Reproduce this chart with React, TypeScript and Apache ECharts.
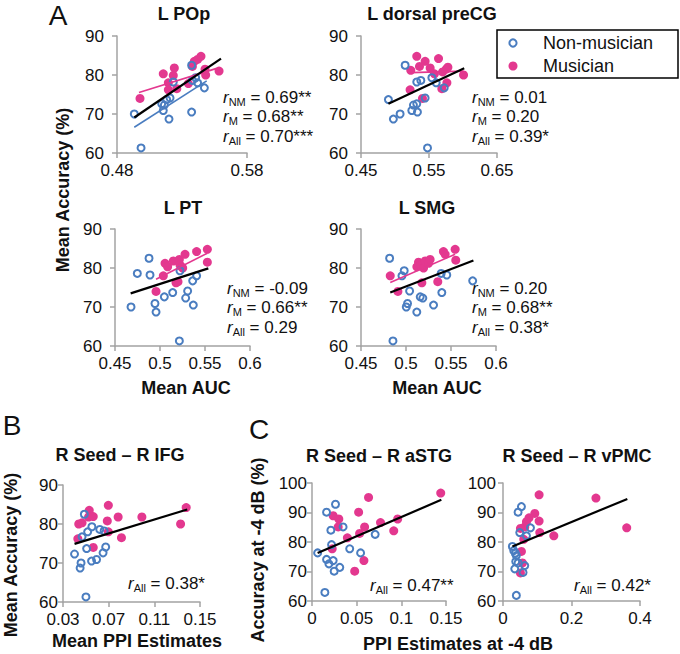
import React, { useEffect, useRef } from "react";
import * as echarts from "echarts";

const FONT = '"Liberation Sans", Arial, sans-serif';
const BLUE = "#4a7dc0";
const PINK = "#e3388f";
const AXIS = "#a3a3a3";

// ---- Panel A1: L POp ----
const popNM = [[0.4933,70.0],[0.4985,61.3],[0.5144,72.6],[0.5164,72.3],[0.5182,73.7],[0.5208,74.1],[0.5156,70.9],[0.52,68.7],[0.5233,78.2],[0.5374,70.5],[0.538,78.6],[0.5472,76.7],[0.5374,82.5],[0.5405,79.3],[0.542,78.0]];
const popM = [[0.4977,74.0],[0.5156,80.3],[0.5195,78.0],[0.5233,79.9],[0.5241,81.8],[0.5195,76.2],[0.526,76.5],[0.5349,77.8],[0.538,82.2],[0.5395,83.5],[0.542,84.0],[0.5446,84.8],[0.5477,81.5],[0.5482,80.0],[0.5585,81.0]];
const popFitNM = [[0.4933,66.6],[0.549,78.5]];
const popFitM = [[0.4969,75.5],[0.5567,81.7]];
const popFitAll = [[0.4933,69.1],[0.56,84.2]];
const popXTicks = [0.48, 0.58];

// ---- Panel A2: L dorsal preCG ----
const dpcNM = [[0.4903,73.7],[0.4976,68.7],[0.5075,70.0],[0.5149,82.5],[0.5247,70.9],[0.5271,72.3],[0.532,72.6],[0.533,70.5],[0.532,78.2],[0.538,78.6],[0.5443,74.1],[0.5478,61.3],[0.5542,79.3],[0.5606,78.0],[0.5724,76.7]];
const dpcM = [[0.532,84.8],[0.5232,81.2],[0.536,82.2],[0.5443,83.5],[0.5517,81.8],[0.564,84.2],[0.5222,76.2],[0.5404,74.0],[0.5689,76.5],[0.5763,78.0],[0.5753,81.5],[0.5778,82.0],[0.6008,80.0],[0.558,80.3],[0.57,80.8]];
const dpcFitM = [[0.5222,80.6],[0.6008,81.0]];
const dpcFitAll = [[0.4903,72.6],[0.6018,81.7]];
const dpcXTicks = [0.45, 0.55, 0.65];

// ---- Panel A3: L PT ----
const ptNM = [[0.4678,70.0],[0.4748,78.6],[0.4878,82.5],[0.4889,78.2],[0.4944,70.9],[0.4956,68.7],[0.5048,72.6],[0.5141,73.7],[0.5215,61.3],[0.5222,79.3],[0.5285,72.3],[0.5307,74.1],[0.5363,76.7],[0.537,70.5],[0.5407,78.0]];
const ptM = [[0.4956,74.0],[0.5037,78.0],[0.5056,81.2],[0.5085,80.3],[0.5148,81.8],[0.5178,76.2],[0.52,76.5],[0.5215,82.2],[0.5222,80.8],[0.5252,80.0],[0.5278,83.5],[0.5407,84.2],[0.5526,84.8],[0.5526,81.5],[0.524,80.3]];
const ptFitM = [[0.4956,77.1],[0.5526,83.8]];
const ptFitAll = [[0.4674,73.5],[0.5537,79.9]];
const aucXTicks = [0.45, 0.5, 0.55, 0.6];

// ---- Panel A4: L SMG ----
const smgNM = [[0.4818,82.5],[0.498,79.3],[0.4955,78.0],[0.504,74.1],[0.5003,70.0],[0.5017,70.9],[0.512,68.7],[0.5158,72.6],[0.5187,72.3],[0.4855,61.3],[0.5306,70.5],[0.5391,78.6],[0.5398,73.7],[0.5453,78.2],[0.5741,76.7]];
const smgM = [[0.4825,78.0],[0.491,74.0],[0.5139,81.5],[0.5121,80.3],[0.5165,80.8],[0.5195,80.0],[0.5176,76.2],[0.5213,81.8],[0.525,81.2],[0.5268,82.2],[0.5353,76.5],[0.5416,84.2],[0.5435,83.5],[0.5546,84.8],[0.5553,82.0]];
const smgFitM = [[0.4825,76.3],[0.5546,83.5]];
const smgFitAll = [[0.4825,73.7],[0.5749,81.9]];

// ---- Panel B: R Seed – R IFG ----
const ifgNM = [[0.0401,72.3],[0.0458,70.0],[0.045,68.7],[0.0487,82.5],[0.0467,76.7],[0.0516,78.0],[0.0553,79.3],[0.0507,73.7],[0.0501,61.3],[0.055,70.5],[0.0594,70.9],[0.0622,78.6],[0.0651,72.6],[0.0674,74.1],[0.066,78.2]];
const ifgM = [[0.043,76.2],[0.0438,80.0],[0.0467,80.3],[0.053,83.5],[0.0524,81.8],[0.0565,81.9],[0.0565,74.0],[0.0697,84.8],[0.0688,80.8],[0.0697,78.0],[0.0783,81.8],[0.0812,76.5],[0.0991,81.8],[0.133,80.0],[0.1379,84.2]];
const ifgFitAll = [[0.0401,74.9],[0.1388,83.7]];
const ifgXTicks = [0.03, 0.07, 0.11, 0.15];

// ---- Panel C1: R Seed – R aSTG ----
const astgNM = [[0.0063,76.3],[0.0163,90.1],[0.0263,92.8],[0.0211,84.0],[0.0348,85.1],[0.0219,79.1],[0.0163,74.1],[0.0189,72.6],[0.0237,73.7],[0.0248,70.1],[0.0311,71.4],[0.0144,62.9],[0.0422,77.7],[0.0544,76.3],[0.0707,82.6]];
const astgM = [[0.0237,88.9],[0.03,87.8],[0.0293,85.1],[0.0226,77.7],[0.0396,81.4],[0.0478,70.1],[0.0522,90.1],[0.0533,82.9],[0.0589,85.1],[0.0581,73.7],[0.0633,95.1],[0.0767,86.6],[0.0915,83.8],[0.0959,87.8],[0.1441,96.6]];
const astgFitAll = [[0.0063,76.3],[0.1448,94.3]];
const astgXTicks = [0, 0.05, 0.1, 0.15];

// ---- Panel C2: R Seed – R vPMC ----
const vpmcNM = [[0.0274,78.5],[0.0313,77.1],[0.039,75.4],[0.0538,92.0],[0.044,90.1],[0.0489,83.2],[0.0685,82.1],[0.0802,84.8],[0.0372,73.4],[0.0343,70.9],[0.0635,72.0],[0.0585,69.7],[0.039,61.9],[0.044,72.9],[0.036,76.2]];
const vpmcM = [[0.1054,96.0],[0.2714,94.9],[0.3612,84.8],[0.0928,89.7],[0.1054,87.1],[0.0761,88.2],[0.0685,86.9],[0.0635,85.1],[0.0509,84.6],[0.1074,83.2],[0.1484,82.1],[0.0606,80.9],[0.0538,76.8],[0.0568,72.9],[0.0509,69.5]];
const vpmcFitAll = [[0.0274,78.5],[0.363,94.6]];
const vpmcXTicks = [0, 0.2, 0.4];

const accTicksA = [60, 70, 80, 90];
const accTicksC = [60, 70, 80, 90, 100];

const titles = ["L POp", "L dorsal preCG", "L PT", "L SMG", "R Seed – R IFG", "R Seed – R aSTG", "R Seed – R vPMC"];
const statsA1 = [["NM", "0.69**"], ["M", "0.68**"], ["All", "0.70***"]];
const statsA2 = [["NM", "0.01"], ["M", "0.20"], ["All", "0.39*"]];
const statsA3 = [["NM", "-0.09"], ["M", "0.66**"], ["All", "0.29"]];
const statsA4 = [["NM", "0.20"], ["M", "0.68**"], ["All", "0.38*"]];
const statsB = [["All", "0.38*"]];
const statsC1 = [["All", "0.47**"]];
const statsC2 = [["All", "0.42*"]];

export default function App() {
  const ref = useRef<HTMLDivElement>(null);
  useEffect(() => {
    document.body.style.margin = "0";
    const chart = echarts.init(ref.current!, null, { renderer: "svg" });

    const panels = [
      { g: [117, 36, 130, 117], x: [0.48, 0.58], xt: popXTicks, y: [60, 90], yt: accTicksA, ym: 13, nm: popNM, m: popM,
        fits: [[popFitNM, BLUE, 1.6], [popFitM, PINK, 1.6], [popFitAll, "#000", 2.2]],
        title: [184, 14], stats: statsA1, sp: [223, 97] },
      { g: [361, 36, 136, 117], x: [0.45, 0.65], xt: dpcXTicks, y: [60, 90], yt: accTicksA, ym: 13, nm: dpcNM, m: dpcM,
        fits: [[dpcFitM, PINK, 1.6], [dpcFitAll, "#000", 2.2]],
        title: [432, 14], stats: statsA2, sp: [472, 97] },
      { g: [115, 229, 135, 117], x: [0.45, 0.6], xt: aucXTicks, y: [60, 90], yt: accTicksA, ym: 13, nm: ptNM, m: ptM,
        fits: [[ptFitM, PINK, 1.6], [ptFitAll, "#000", 2.2]],
        title: [183, 208], stats: statsA3, sp: [227, 288] },
      { g: [361, 229, 135, 117], x: [0.45, 0.6], xt: aucXTicks, y: [60, 90], yt: accTicksA, ym: 13, nm: smgNM, m: smgM,
        fits: [[smgFitM, PINK, 1.6], [smgFitAll, "#000", 2.2]],
        title: [427, 208], stats: statsA4, sp: [472, 288] },
      { g: [63, 485, 137, 117], x: [0.03, 0.15], xt: ifgXTicks, y: [60, 90], yt: accTicksA, ym: 5, nm: ifgNM, m: ifgM,
        fits: [[ifgFitAll, "#000", 2.2]],
        title: [120, 455], stats: statsB, sp: [128, 583] },
      { g: [312, 483, 134, 118], x: [0, 0.15], xt: astgXTicks, y: [60, 100], yt: accTicksC, ym: 5, nm: astgNM, m: astgM,
        fits: [[astgFitAll, "#000", 2.2]],
        title: [379, 456], stats: statsC1, sp: [370, 585] },
      { g: [503, 483, 137, 118], x: [0, 0.4], xt: vpmcXTicks, y: [60, 100], yt: accTicksC, ym: 7, nm: vpmcNM, m: vpmcM,
        fits: [[vpmcFitAll, "#000", 2.2]],
        title: [577, 456], stats: statsC2, sp: [574, 585] },
    ];

    const fmt = (v: number) => String(parseFloat(Number(v).toFixed(4)));
    const grid: any[] = [], xAxis: any[] = [], yAxis: any[] = [], series: any[] = [], graphic: any[] = [];

    panels.forEach((p, i) => {
      grid.push({ left: p.g[0], top: p.g[1], width: p.g[2], height: p.g[3], containLabel: false });
      xAxis.push({
        type: "value", gridIndex: i, min: p.x[0], max: p.x[1],
        axisLine: { show: true, onZero: false, lineStyle: { color: AXIS, width: 1.5 } },
        axisTick: { show: true, length: 5, customValues: p.xt, lineStyle: { color: AXIS, width: 1.5 } },
        axisLabel: { customValues: p.xt, formatter: fmt, color: "#111", fontSize: 17, fontFamily: FONT, margin: 9, showMinLabel: true, showMaxLabel: true },
        splitLine: { show: false },
      });
      yAxis.push({
        type: "value", gridIndex: i, min: p.y[0], max: p.y[1],
        axisLine: { show: true, onZero: false, lineStyle: { color: AXIS, width: 1.5 } },
        axisTick: { show: true, length: 5, customValues: p.yt, lineStyle: { color: AXIS, width: 1.5 } },
        axisLabel: { customValues: p.yt, color: "#111", fontSize: 17, fontFamily: FONT, margin: p.ym },
        splitLine: { show: false },
      });
      series.push({
        type: "scatter", xAxisIndex: i, yAxisIndex: i, data: p.m, symbol: "circle", symbolSize: 9,
        itemStyle: { color: PINK, opacity: 1 }, z: 2,
      });
      series.push({
        type: "scatter", xAxisIndex: i, yAxisIndex: i, data: p.nm, symbol: "circle", symbolSize: 7,
        itemStyle: { color: "transparent", borderColor: BLUE, borderWidth: 2, opacity: 1 }, z: 3,
      });
      p.fits.forEach((f: any) => {
        series.push({
          type: "line", xAxisIndex: i, yAxisIndex: i, data: f[0], symbol: "none",
          lineStyle: { color: f[1], width: f[2] }, z: 4, silent: true,
        });
      });
      graphic.push({
        type: "text", x: p.title[0], y: p.title[1],
        style: { text: titles[i], fontSize: 18, fontWeight: "bold", fontFamily: FONT, fill: "#111", align: "center", verticalAlign: "middle" },
      });
      p.stats.forEach((s: string[], k: number) => {
        graphic.push({
          type: "text", x: p.sp[0], y: p.sp[1] + k * 19.5,
          style: {
            text: `{r|r}{s|${s[0]}}{t| = ${s[1]}}`,
            fontFamily: FONT, fill: "#111", align: "left", verticalAlign: "middle",
            rich: {
              r: { fontStyle: "italic", fontSize: 17, fontFamily: FONT, fill: "#111", lineHeight: 20 },
              s: { fontSize: 11, fontFamily: FONT, fill: "#111", verticalAlign: "bottom", lineHeight: 13 },
              t: { fontSize: 17, fontFamily: FONT, fill: "#111", lineHeight: 20 },
            },
          },
        });
      });
    });

    const bold = (text: string, x: number, y: number, rot = 0) => ({
      type: "text", x, y, rotation: rot,
      style: { text, fontSize: 18, fontWeight: "bold", fontFamily: FONT, fill: "#111", align: "center", verticalAlign: "middle" },
    });
    graphic.push(bold("Mean Accuracy (%)", 63, 190, Math.PI / 2));
    graphic.push(bold("Mean Accuracy (%)", 11, 555, Math.PI / 2));
    graphic.push(bold("Accuracy at -4 dB (%)", 258, 550, Math.PI / 2));
    graphic.push(bold("Mean AUC", 186, 388));
    graphic.push(bold("Mean AUC", 437, 388));
    graphic.push(bold("Mean PPI Estimates", 137, 641));
    graphic.push(bold("PPI Estimates at -4 dB", 458, 644));

    const letter = (t: string, x: number, y: number) => ({
      type: "text", x, y,
      style: { text: t, fontSize: 28, fontFamily: FONT, fill: "#111", align: "center", verticalAlign: "middle" },
    });
    graphic.push(letter("A", 58, 15));
    graphic.push(letter("B", 12, 425));
    graphic.push(letter("C", 259, 429));

    // legend
    graphic.push({ type: "rect", shape: { x: 497, y: 30, width: 181, height: 48 }, style: { fill: "#fff", stroke: "#000", lineWidth: 1.5 }, z: 10 });
    graphic.push({ type: "circle", shape: { cx: 513, cy: 43, r: 3.6 }, style: { fill: "none", stroke: BLUE, lineWidth: 2 }, z: 11 });
    graphic.push({ type: "circle", shape: { cx: 513, cy: 66, r: 4.5 }, style: { fill: PINK }, z: 11 });
    graphic.push({ type: "text", x: 543, y: 43, z: 11, style: { text: "Non-musician", fontSize: 18, fontFamily: FONT, fill: "#111", align: "left", verticalAlign: "middle" } });
    graphic.push({ type: "text", x: 543, y: 66, z: 11, style: { text: "Musician", fontSize: 18, fontFamily: FONT, fill: "#111", align: "left", verticalAlign: "middle" } });

    chart.setOption({
      animation: false,
      backgroundColor: "#fff",
      grid, xAxis, yAxis, series, graphic,
    });
    return () => chart.dispose();
  }, []);
  return <div ref={ref} style={{ width: 680, height: 654 }} />;
}
